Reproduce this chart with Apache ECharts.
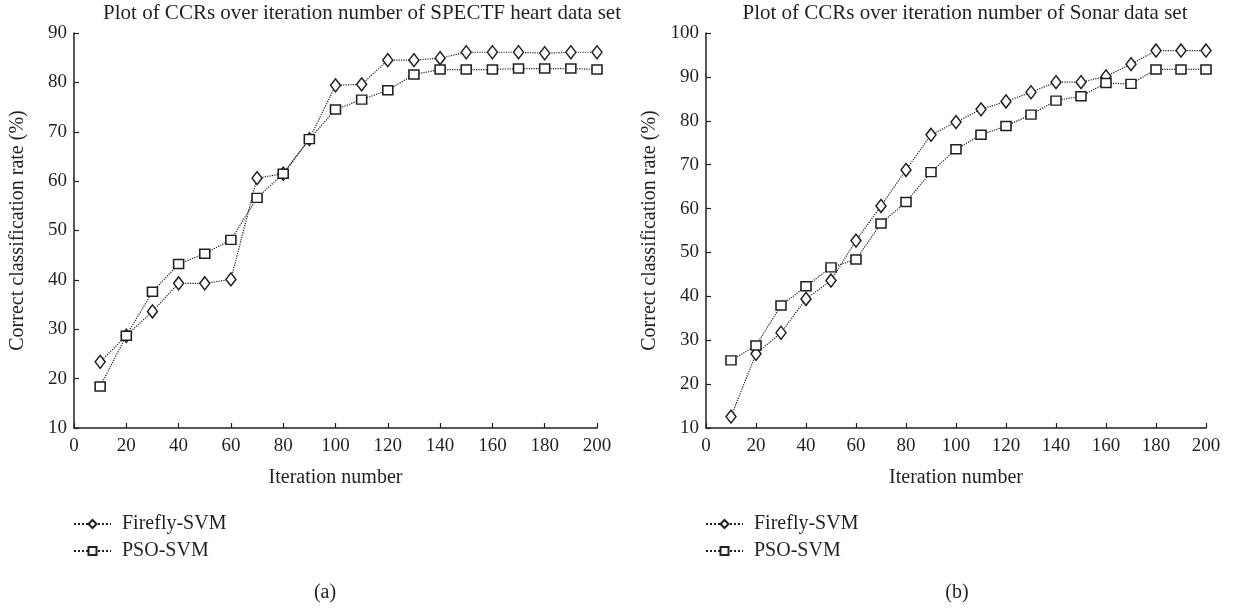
<!DOCTYPE html>
<html><head><meta charset="utf-8">
<script src="https://cdn.jsdelivr.net/npm/echarts@6/dist/echarts.min.js"></script>
<style>html,body{margin:0;padding:0;background:#fff}#c{width:1236px;height:609px}</style>
</head><body><div id="c"></div>
<script>
const iterations = [10,20,30,40,50,60,70,80,90,100,110,120,130,140,150,160,170,180,190,200];
const spectfFirefly = [23.4,28.7,33.6,39.3,39.3,40.1,60.6,61.5,68.5,79.4,79.6,84.5,84.5,84.9,86.1,86.1,86.1,85.9,86.1,86.1];
const spectfPSO = [18.4,28.7,37.6,43.2,45.3,48.1,56.6,61.5,68.5,74.5,76.5,78.4,81.6,82.6,82.6,82.6,82.8,82.8,82.8,82.6];
const sonarFirefly = [12.6,26.9,31.7,39.4,43.6,52.7,60.6,68.8,76.8,79.7,82.6,84.4,86.5,88.8,88.8,90.1,92.9,96.0,96.0,96.0];
const sonarPSO = [25.4,28.8,37.9,42.3,46.6,48.4,56.6,61.5,68.3,73.5,76.8,78.8,81.4,84.6,85.6,88.6,88.4,91.7,91.7,91.7];
const xTicks = [0,20,40,60,80,100,120,140,160,180,200];
const yTicksA = [10,20,30,40,50,60,70,80,90];
const yTicksB = [10,20,30,40,50,60,70,80,90,100];
const titles = ['Plot of CCRs over iteration number of SPECTF heart data set','Plot of CCRs over iteration number of Sonar data set'];
const panelLabels = ['(a)','(b)'];
const seriesNames = ['Firefly-SVM','PSO-SVM'];

const FONT = '"Liberation Serif","DejaVu Serif",serif';
const INK = '#231f20';
const chart = echarts.init(document.getElementById('c'));
const pair = (xs, ys) => xs.map((x,i)=>[x, ys[i]]);

function xAxis(gi){
  return {type:'value', gridIndex:gi, min:xTicks[0], max:xTicks[xTicks.length-1], interval:xTicks[1]-xTicks[0],
    name:'Iteration number', nameLocation:'middle', nameGap:40,
    nameTextStyle:{fontFamily:FONT, fontSize:20, color:INK},
    axisLine:{lineStyle:{color:INK, width:1.5}},
    axisTick:{inside:true, length:5, lineStyle:{color:INK, width:1.2}},
    axisLabel:{fontFamily:FONT, fontSize:19, color:INK, margin:9},
    splitLine:{show:false}};
}
function yAxis(gi, ticks){
  return {type:'value', gridIndex:gi, min:ticks[0], max:ticks[ticks.length-1], interval:ticks[1]-ticks[0],
    name:'Correct classification rate (%)', nameLocation:'middle', nameGap:46,
    nameTextStyle:{fontFamily:FONT, fontSize:20, color:INK},
    axisLine:{show:true, lineStyle:{color:INK, width:1.5}},
    axisTick:{show:true, inside:true, length:5, lineStyle:{color:INK, width:1.2}},
    axisLabel:{fontFamily:FONT, fontSize:19, color:INK, margin:7},
    splitLine:{show:false}};
}
function ser(name, gi, data, symbol, size){
  return {name:name, type:'line', xAxisIndex:gi, yAxisIndex:gi, data:data,
    symbol:symbol, symbolSize:size, showAllSymbol:true,
    lineStyle:{type:'dotted', color:INK, width:1.2},
    itemStyle:{color:'#fff', borderColor:INK, borderWidth:1.5},
    emphasis:{disabled:true}, animation:false, z:3};
}
function legend(left){
  return {orient:'vertical', left:left, top:514, padding:0, itemWidth:37, itemHeight:10, itemGap:7,
    data:seriesNames, selectedMode:false,
    textStyle:{fontFamily:FONT, fontSize:20, color:INK, padding:[0,0,0,6]}};
}
const tStyle = {fontFamily:FONT, fontSize:20, fontWeight:'normal', color:INK};
const hStyle = {fontFamily:FONT, fontSize:21, fontWeight:'normal', color:INK};

chart.setOption({
  backgroundColor:'#fff',
  animation:false,
  title:[
    {text:titles[0], left:357, top:-2, textAlign:'center', textStyle:hStyle},
    {text:titles[1], left:960, top:-2, textAlign:'center', textStyle:hStyle},
    {text:panelLabels[0], left:320, top:578, textAlign:'center', textStyle:tStyle},
    {text:panelLabels[1], left:952, top:578, textAlign:'center', textStyle:tStyle}
  ],
  grid:[
    {left:74, top:33, width:523, height:395},
    {left:706, top:33, width:500, height:395}
  ],
  xAxis:[xAxis(0), xAxis(1)],
  yAxis:[yAxis(0,yTicksA), yAxis(1,yTicksB)],
  legend:[legend(73), legend(705)],
  series:[
    ser(seriesNames[0], 0, pair(iterations, spectfFirefly), 'diamond', [10,13]),
    ser(seriesNames[1], 0, pair(iterations, spectfPSO), 'rect', [10,9]),
    ser(seriesNames[0], 1, pair(iterations, sonarFirefly), 'diamond', [10,13]),
    ser(seriesNames[1], 1, pair(iterations, sonarPSO), 'rect', [10,9])
  ]
});
</script></body></html>
